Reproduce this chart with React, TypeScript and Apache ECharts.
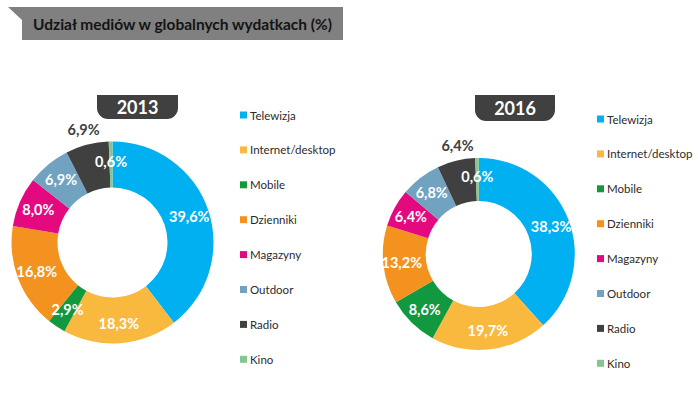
import React, { useEffect, useRef } from "react";
import * as echarts from "echarts";

const categories = ["Telewizja", "Internet/desktop", "Mobile", "Dzienniki", "Magazyny", "Outdoor", "Radio", "Kino"];
const values2013 = [39.6, 18.3, 2.9, 16.8, 8.0, 6.9, 6.9, 0.6];
const values2016 = [38.3, 19.7, 8.6, 13.2, 6.4, 6.8, 6.4, 0.6];
const colors = ["#00B0F0", "#F9B93E", "#12983E", "#F4921F", "#E5097F", "#71A2C0", "#404040", "#86C490"];
const years = ["2013", "2016"];
const title = "Udział mediów w globalnych wydatkach (%)";

const FONT = "Lato, 'DejaVu Sans', sans-serif";
const RADIO_INDEX = categories.indexOf("Radio");

const fmt = (v: number) => v.toFixed(1).replace(".", ",") + "%";

function buildData(values: number[]) {
  return categories.map((name, i) => {
    const item: any = { name, value: values[i] };
    if (i === RADIO_INDEX) {
      item.label = { color: "#404040" };
    }
    return item;
  });
}

export default function App() {
  const ref = useRef<HTMLDivElement>(null);
  useEffect(() => {
    if (!ref.current) return;
    const chart = echarts.init(ref.current, null, { renderer: "svg" });
    const labelCfg = {
      show: true,
      position: "inside" as const,
      color: "#ffffff",
      fontWeight: "bold" as const,
      fontSize: 14.5,
      fontFamily: FONT,
      formatter: (p: any) => fmt(p.value),
    };
    const legendBase = {
      orient: "vertical" as const,
      icon: "rect",
      itemWidth: 7,
      itemHeight: 7,
      selectedMode: false,
      data: categories,
      textStyle: { color: "#2b2b2b", fontSize: 11.5, fontFamily: FONT, lineHeight: 14, padding: [0, 0, 0, -2] },
    };
    chart.setOption({
      animation: false,
      backgroundColor: "#ffffff",
      color: colors,
      legend: [
        { ...legendBase, left: 235, top: 103, itemGap: 20.9 },
        { ...legendBase, left: 592, top: 107, itemGap: 20.9 },
      ],
      series: [
        {
          type: "pie",
          center: [112.5, 242.5],
          radius: [55, 101],
          startAngle: 90,
          clockwise: true,
          label: labelCfg,
          labelLine: { show: false },
          labelLayout: (p: any) => (p.dataIndex === RADIO_INDEX ? { dx: -8.5, dy: -35 } : {}),
          data: buildData(values2013),
        },
        {
          type: "pie",
          center: [478.8, 254],
          radius: [53, 96],
          startAngle: 90,
          clockwise: true,
          label: labelCfg,
          labelLine: { show: false },
          labelLayout: (p: any) => (p.dataIndex === RADIO_INDEX ? { dx: -3, dy: -33 } : {}),
          data: buildData(values2016),
        },
      ],
      graphic: [
        {
          type: "polygon",
          shape: { points: [[8, 7], [343, 7], [343, 40], [22, 40], [22, 20]] },
          style: { fill: "#808080" },
        },
        {
          type: "text",
          x: 33,
          y: 24,
          style: {
            text: title,
            fill: "#141414",
            font: `bold 15.5px ${FONT}`,
            verticalAlign: "middle",
          },
        },
        {
          type: "rect",
          shape: { x: 97, y: 95, width: 81, height: 24, r: [0, 0, 11, 11] },
          style: { fill: "#404040" },
        },
        {
          type: "text",
          x: 137.5,
          y: 107,
          style: {
            text: years[0],
            fill: "#ffffff",
            font: `bold 18px ${FONT}`,
            align: "center",
            verticalAlign: "middle",
          },
        },
        {
          type: "rect",
          shape: { x: 475, y: 95, width: 80, height: 26, r: [0, 0, 11, 11] },
          style: { fill: "#404040" },
        },
        {
          type: "text",
          x: 515,
          y: 108,
          style: {
            text: years[1],
            fill: "#ffffff",
            font: `bold 18px ${FONT}`,
            align: "center",
            verticalAlign: "middle",
          },
        },
      ],
    });
    return () => chart.dispose();
  }, []);
  return (
    <div
      ref={ref}
      style={{ position: "fixed", left: 0, top: 0, width: 698, height: 396 }}
    />
  );
}
